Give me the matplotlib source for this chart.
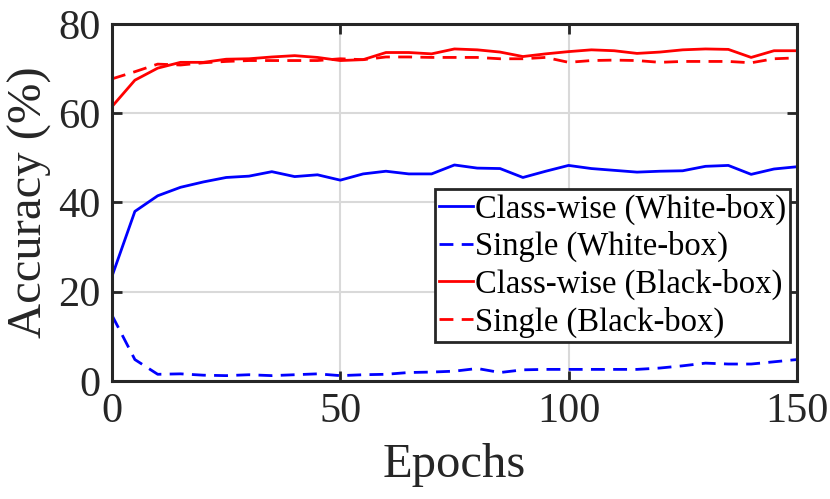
import matplotlib
matplotlib.use("Agg")
import matplotlib.pyplot as plt
import numpy as np

epochs = list(range(0, 151, 5))
cw_white = [23.5, 38.0, 41.5, 43.4, 44.6, 45.6, 45.9, 46.9, 45.8, 46.2, 45.0,
            46.4, 47.0, 46.4, 46.4, 48.4, 47.7, 47.6, 45.6, 47.0, 48.3,
            47.6, 47.2, 46.8, 47.0, 47.1, 48.1, 48.3, 46.3, 47.5, 48.0]
single_white = [14.7, 4.8, 1.5, 1.6, 1.3, 1.2, 1.4, 1.2, 1.4, 1.6, 1.2,
                1.4, 1.5, 1.9, 2.0, 2.2, 2.8, 1.9, 2.5, 2.6, 2.6,
                2.6, 2.6, 2.6, 2.9, 3.4, 4.0, 3.8, 3.8, 4.3, 4.8]
cw_black = [61.5, 67.4, 70.1, 71.4, 71.4, 72.1, 72.2, 72.6, 72.9, 72.5, 71.8,
            72.0, 73.6, 73.6, 73.3, 74.4, 74.2, 73.7, 72.7, 73.3, 73.8,
            74.2, 74.0, 73.4, 73.7, 74.2, 74.4, 74.3, 72.5, 74.0, 74.0]
single_black = [67.7, 69.3, 71.0, 70.8, 71.3, 71.6, 71.8, 71.8, 71.8, 71.8, 72.2,
                72.0, 72.6, 72.6, 72.5, 72.5, 72.5, 72.2, 72.2, 72.5, 71.4,
                71.8, 71.9, 71.8, 71.4, 71.6, 71.6, 71.6, 71.3, 72.2, 72.4]

labels = ["Class-wise (White-box)", "Single (White-box)",
          "Class-wise (Black-box)", "Single (Black-box)"]
xticks = [0, 50, 100, 150]
yticks = [0, 20, 40, 60, 80]

plt.rcParams['font.family'] = ['Liberation Serif', 'DejaVu Serif']

fig = plt.figure(figsize=(8.30, 4.99), dpi=100)
ax = fig.add_axes([0.135, 0.2365, 0.825, 0.7155])

lw = 2.0
dash = (0, (5, 3))
ax.plot(epochs, cw_white, color='#0000ff', lw=lw, label=labels[0])
ax.plot(epochs, single_white, color='#0000ff', lw=lw, linestyle=dash, label=labels[1])
ax.plot(epochs, cw_black, color='#ff0000', lw=lw, label=labels[2])
ax.plot(epochs, single_black, color='#ff0000', lw=lw, linestyle=dash, label=labels[3])

ax.set_xlim(0, 150)
ax.set_ylim(0, 80)
ax.set_xticks(xticks)
ax.set_yticks(yticks)
ax.grid(True, color='#d9d9d9', linewidth=1.5)
ax.set_axisbelow(True)
for s in ax.spines.values():
    s.set_color('#262626')
    s.set_linewidth(2.2)
ax.tick_params(direction='in', length=7, width=2, colors='#262626',
               top=True, right=True, labelsize=30.5, pad=8)
for lab in ax.get_xticklabels() + ax.get_yticklabels():
    lab.set_color('#262626')
ax.set_xlabel("Epochs", fontsize=35, color='#262626', labelpad=9)
ax.set_ylabel("Accuracy (%)", fontsize=35, color='#262626', labelpad=5)

leg = ax.legend(loc='lower right', bbox_to_anchor=(0.99, 0.11), fontsize=23.5,
                handlelength=1.05, handletextpad=0.05, labelspacing=0.2,
                borderpad=0.12, borderaxespad=0.0, fancybox=False, framealpha=1,
                edgecolor='#262626')
leg.get_frame().set_linewidth(2.0)

fig.savefig("out.png", dpi=100)
